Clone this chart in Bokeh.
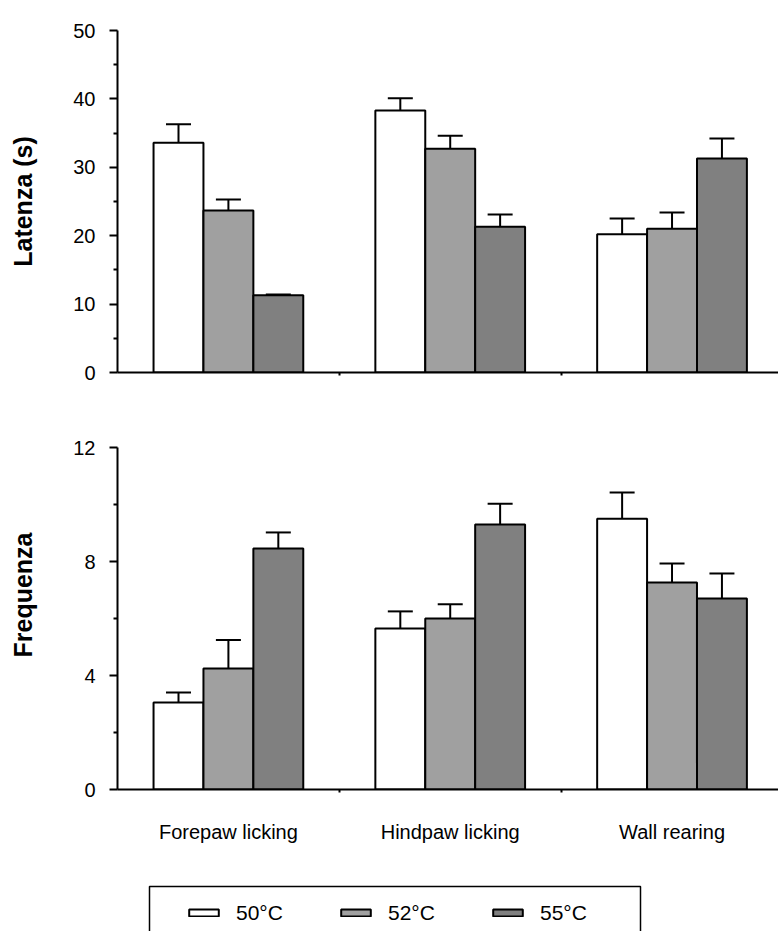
from bokeh.plotting import figure
from bokeh.layouts import column
from bokeh.models import (ColumnDataSource, FixedTicker, Range1d, Whisker,
                          TeeHead, Legend, LegendItem, BoxAnnotation)
from bokeh.transform import dodge
from bokeh.embed import file_html
from bokeh.resources import INLINE

# ---------------- data ----------------
categories = ["Forepaw licking", "Hindpaw licking", "Wall rearing"]
series = ["50°C", "52°C", "55°C"]
colors = ["#ffffff", "#a0a0a0", "#808080"]
cat_pos = [0, 1, 2]

lat_50 = [33.6, 38.3, 20.2]
lat_50_err = [2.7, 1.8, 2.3]
lat_52 = [23.7, 32.7, 21.0]
lat_52_err = [1.6, 1.9, 2.4]
lat_55 = [11.3, 21.3, 31.3]
lat_55_err = [0.1, 1.8, 2.9]

freq_50 = [3.05, 5.65, 9.5]
freq_50_err = [0.35, 0.6, 0.92]
freq_52 = [4.25, 6.0, 7.26]
freq_52_err = [1.0, 0.5, 0.67]
freq_55 = [8.46, 9.3, 6.7]
freq_55_err = [0.56, 0.73, 0.88]

lat_ticks = [0, 10, 20, 30, 40, 50]
lat_minor = [5, 15, 25, 35, 45]
freq_ticks = [0, 4, 8, 12]
freq_minor = [2, 6, 10]

FONT = "Liberation Sans"
BAR_W = 0.225
OFFSETS = [-0.225, 0.0, 0.225]
LW = 2


def make_source(vals, errs):
    d = {"x": cat_pos}
    for i, (v, e) in enumerate(zip(vals, errs)):
        d[f"m{i}"] = v
        d[f"u{i}"] = [a + b for a, b in zip(v, e)]
    return ColumnDataSource(d)


def style_y(p, ticks, minor, label, bounds):
    ax = p.yaxis[0]
    ax.ticker = FixedTicker(ticks=ticks, minor_ticks=minor)
    ax.bounds = bounds
    ax.major_tick_out = 8
    ax.major_tick_in = 0
    ax.minor_tick_out = 4
    ax.minor_tick_in = 0
    ax.axis_line_width = LW
    ax.major_tick_line_width = LW
    ax.minor_tick_line_width = LW
    ax.major_label_text_font = FONT
    ax.major_label_text_font_size = "20px"
    ax.major_label_text_color = "black"
    ax.major_label_standoff = 14
    ax.axis_label = label
    ax.axis_label_text_font = FONT
    ax.axis_label_text_font_size = "25px"
    ax.axis_label_text_font_style = "bold"
    ax.axis_label_text_color = "black"
    ax.axis_label_standoff = 33


def style_x(p, with_labels):
    ax = p.xaxis[0]
    ax.axis_line_width = LW
    ax.minor_tick_out = 3
    ax.minor_tick_in = 0
    ax.minor_tick_line_width = LW
    ax.major_tick_out = 0
    ax.major_tick_in = 0
    if with_labels:
        ax.ticker = FixedTicker(ticks=cat_pos, minor_ticks=[0.5, 1.5])
        ax.major_label_overrides = {i: c for i, c in zip(cat_pos, categories)}
        ax.major_label_text_font = FONT
        ax.major_label_text_font_size = "20px"
        ax.major_label_text_color = "black"
        ax.major_label_standoff = 28
    else:
        ax.ticker = FixedTicker(ticks=[], minor_ticks=[0.5, 1.5])
        ax.major_label_text_font_size = "0px"


def draw_bars(p, src, visible=True):
    rs = []
    for i in range(3):
        r = p.vbar(x=dodge("x", OFFSETS[i]), top=f"m{i}", width=BAR_W, source=src,
                   fill_color=colors[i], line_color="black", line_width=LW, visible=visible)
        rs.append(r)
    return rs


def panel(vals, errs, yr, bounds, ticks, minor, label, with_xlabels, height, mbt, mbb):
    p = figure(width=778, height=height, output_backend="svg", toolbar_location=None,
               x_range=Range1d(-0.5, 2.48), y_range=Range1d(*yr),
               min_border_left=117, min_border_right=0,
               min_border_top=mbt, min_border_bottom=mbb)
    p.grid.visible = False
    p.outline_line_color = None
    src = make_source(vals, errs)
    draw_bars(p, src)
    for i in range(3):
        w = Whisker(source=src, base=dodge("x", OFFSETS[i]), lower=f"m{i}", upper=f"u{i}",
                    dimension="height", line_color="black", line_width=LW,
                    upper_head=TeeHead(size=25, line_width=LW, line_color="black"),
                    lower_head=None, level="annotation")
        p.add_layout(w)
    style_y(p, ticks, minor, label, bounds)
    style_x(p, with_xlabels)
    return p, src


p1, src1 = panel([lat_50, lat_52, lat_55], [lat_50_err, lat_52_err, lat_55_err],
                 (0, 50), (0, 50), lat_ticks, lat_minor, "Latenza (s)", False, 392, 30, 20)
# frame extends above 12 so that the axis title sits where the original has it;
# the axis line itself stops at 12 (bounds)
p2, src2 = panel([freq_50, freq_52, freq_55], [freq_50_err, freq_52_err, freq_55_err],
                 (0, 13.65), (0, 12), freq_ticks, freq_minor, "Frequenza", True, 478, 8, 81)

# ---------------- legend box ----------------
p3 = figure(width=778, height=61, output_backend="svg", toolbar_location=None,
            x_range=Range1d(-0.5, 2.48), y_range=Range1d(0, 50),
            x_axis_location=None, y_axis_location=None,
            min_border_left=117, min_border_right=0, min_border_top=6, min_border_bottom=0)
p3.grid.visible = False
p3.outline_line_color = None
leg_renderers = draw_bars(p3, src1, visible=False)

p3.add_layout(BoxAnnotation(left=32, right=523, top=45, bottom=-30,
                            left_units="screen", right_units="screen",
                            top_units="screen", bottom_units="screen",
                            fill_alpha=0, line_color="black", line_alpha=1.0, line_width=1.5))

items = [LegendItem(label=s, renderers=[r]) for s, r in zip(series, leg_renderers)]
leg = Legend(items=items, location=(68, 6.5), orientation="horizontal",
             glyph_width=37, glyph_height=9, label_standoff=14, label_width=54,
             label_height=20, spacing=47, padding=0, margin=0,
             border_line_color=None, background_fill_alpha=0,
             label_text_font=FONT, label_text_font_size="21px", label_text_color="black")
p3.add_layout(leg)

layout = column(p1, p2, p3, spacing=0)
open("out.html", "w").write(file_html(layout, INLINE))
